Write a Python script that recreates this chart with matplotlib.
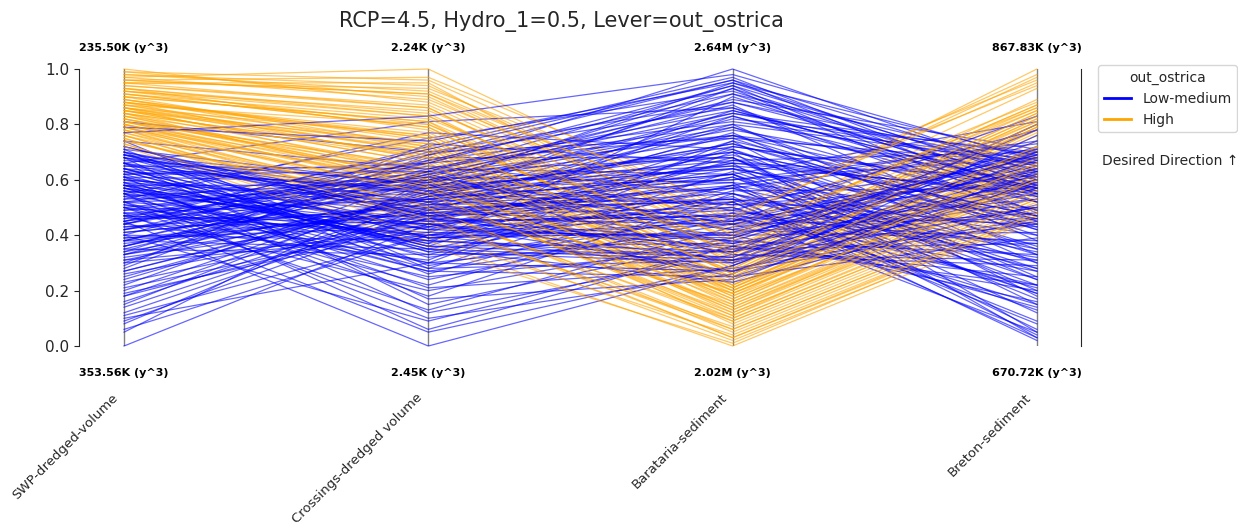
import matplotlib
matplotlib.use("Agg")
import matplotlib.pyplot as plt
import matplotlib.transforms as mtransforms
from matplotlib.lines import Line2D

plt.rcParams['font.family'] = ['DejaVu Sans']
plt.rcParams['text.color'] = '#262626'
plt.rcParams['axes.edgecolor'] = '#262626'
plt.rcParams['xtick.color'] = '#262626'
plt.rcParams['ytick.color'] = '#262626'

title = "RCP=4.5, Hydro_1=0.5, Lever=out_ostrica"
axis_names = ["SWP-dredged-volume", "Crossings-dredged volume", "Barataria-sediment", "Breton-sediment"]
top_labels = ["235.50K (y^3)", "2.24K (y^3)", "2.64M (y^3)", "867.83K (y^3)"]
bottom_labels = ["353.56K (y^3)", "2.45K (y^3)", "2.02M (y^3)", "670.72K (y^3)"]
legend_title = "out_ostrica"
group_names = ["Low-medium", "High"]

# Low-medium (blue) normalized values per axis
low_swp = [0.62, 0.45, 0.71, 0.33, 0.55, 0.68, 0.28, 0.50, 0.59, 0.40,
           0.35, 0.58, 0.20, 0.66, 0.48, 0.74, 0.52, 0.30, 0.43, 0.61,
           0.56, 0.38, 0.81, 0.47, 0.25, 0.64, 0.53, 0.12, 0.69, 0.44,
           0.60, 0.34, 0.50, 0.72, 0.42, 0.18, 0.57, 0.65, 0.39, 0.29,
           0.48, 0.63, 0.22, 0.55, 0.37, 0.70, 0.45, 0.08, 0.58, 0.32,
           0.66, 0.41, 0.52, 0.15, 0.61, 0.36, 0.74, 0.46, 0.27, 0.55,
           0.43, 0.58, 0.31, 0.69, 0.50, 0.05, 0.62, 0.38, 0.54, 0.24,
           0.57, 0.33, 0.47, 0.19, 0.64, 0.40, 0.52, 0.11, 0.68, 0.44,
           0.50, 0.26, 0.61, 0.40, 0.71, 0.16, 0.55, 0.35, 0.45, 0.00,
           0.45, 0.59, 0.30, 0.52, 0.09, 0.66, 0.38, 0.48, 0.21, 0.56,
           0.53, 0.39, 0.64, 0.47, 0.58, 0.34, 0.69, 0.42, 0.51, 0.60,
           0.41, 0.55, 0.36, 0.63, 0.49, 0.72, 0.27, 0.57, 0.44, 0.66,
           0.79, 0.14, 0.06, 0.18, 0.77, 0.10,
           0.65, 0.70, 0.62, 0.68, 0.58, 0.52, 0.47, 0.66, 0.60, 0.54,
           0.69, 0.42, 0.36, 0.63, 0.57, 0.49, 0.31, 0.67, 0.44, 0.59,
           0.70, 0.23, 0.51, 0.64, 0.38, 0.56, 0.46, 0.61, 0.33, 0.68]
low_cross = [0.66, 0.72, 0.58, 0.63, 0.75, 0.55, 0.69, 0.61, 0.52, 0.70,
             0.60, 0.48, 0.57, 0.81, 0.53, 0.64, 0.44, 0.67, 0.50, 0.59,
             0.46, 0.62, 0.70, 0.41, 0.55, 0.36, 0.77, 0.49, 0.58, 0.31,
             0.52, 0.68, 0.38, 0.45, 0.60, 0.56, 0.28, 0.64, 0.43, 0.73,
             0.40, 0.57, 0.61, 0.33, 0.49, 0.26, 0.65, 0.54, 0.37, 0.47,
             0.34, 0.51, 0.22, 0.58, 0.42, 0.63, 0.29, 0.47, 0.55, 0.18,
             0.45, 0.24, 0.53, 0.39, 0.13, 0.60, 0.32, 0.48, 0.27, 0.56,
             0.30, 0.50, 0.20, 0.43, 0.36, 0.09, 0.55, 0.40, 0.15, 0.62,
             0.25, 0.46, 0.12, 0.38, 0.28, 0.52, 0.06, 0.33, 0.58, 0.44,
             0.00, 0.21, 0.40, 0.10, 0.48, 0.17, 0.35, 0.05, 0.44, 0.27,
             0.57, 0.48, 0.42, 0.61, 0.37, 0.53, 0.46, 0.66, 0.40, 0.50,
             0.51, 0.44, 0.59, 0.35, 0.63, 0.47, 0.54, 0.39, 0.69, 0.43,
             0.74, 0.50, 0.40, 0.46, 0.83, 0.30,
             0.55, 0.47, 0.63, 0.39, 0.58, 0.66, 0.44, 0.52, 0.36, 0.60,
             0.49, 0.57, 0.62, 0.34, 0.45, 0.53, 0.41, 0.59, 0.67, 0.38,
             0.51, 0.46, 0.30, 0.56, 0.64, 0.42, 0.71, 0.35, 0.54, 0.48]
low_barataria = [1.00, 0.97, 0.95, 0.94, 0.92, 0.91, 0.96, 0.89, 0.93, 0.88,
                 0.87, 0.85, 0.84, 0.86, 0.82, 0.80, 0.83, 0.81, 0.79, 0.78,
                 0.77, 0.76, 0.75, 0.74, 0.73, 0.72, 0.71, 0.76, 0.70, 0.74,
                 0.69, 0.68, 0.67, 0.66, 0.65, 0.64, 0.63, 0.62, 0.68, 0.66,
                 0.61, 0.60, 0.59, 0.58, 0.57, 0.56, 0.55, 0.60, 0.58, 0.62,
                 0.54, 0.53, 0.52, 0.51, 0.50, 0.49, 0.48, 0.53, 0.51, 0.55,
                 0.47, 0.46, 0.45, 0.44, 0.43, 0.42, 0.47, 0.45, 0.44, 0.46,
                 0.41, 0.40, 0.39, 0.38, 0.37, 0.36, 0.42, 0.40, 0.38, 0.37,
                 0.35, 0.34, 0.33, 0.32, 0.31, 0.30, 0.36, 0.34, 0.33, 0.31,
                 0.29, 0.28, 0.27, 0.26, 0.25, 0.24, 0.23, 0.29, 0.27, 0.25,
                 0.83, 0.58, 0.71, 0.44, 0.90, 0.62, 0.38, 0.76, 0.52, 0.66,
                 0.80, 0.49, 0.93, 0.57, 0.68, 0.35, 0.73, 0.45, 0.86, 0.61,
                 0.95, 0.52, 0.48, 0.64, 0.98, 0.70,
                 0.72, 0.50, 0.88, 0.41, 0.64, 0.94, 0.36, 0.59, 0.32, 0.79,
                 0.55, 0.67, 0.84, 0.30, 0.47, 0.62, 0.40, 0.75, 0.91, 0.34,
                 0.57, 0.44, 0.27, 0.70, 0.85, 0.39, 0.96, 0.31, 0.65, 0.53]
low_breton = [0.62, 0.55, 0.68, 0.48, 0.58, 0.66, 0.52, 0.71, 0.45, 0.60,
              0.38, 0.57, 0.64, 0.47, 0.70, 0.33, 0.55, 0.67, 0.42, 0.59,
              0.30, 0.52, 0.66, 0.18, 0.45, 0.58, 0.25, 0.63, 0.05, 0.49,
              0.36, 0.20, 0.70, 0.03, 0.56, 0.44, 0.28, 0.81, 0.15, 0.61,
              0.24, 0.68, 0.47, 0.04, 0.35, 0.57, 0.19, 0.73, 0.40, 0.12,
              0.02, 0.31, 0.66, 0.50, 0.21, 0.78, 0.44, 0.09, 0.59, 0.34,
              0.62, 0.27, 0.83, 0.14, 0.53, 0.38, 0.05, 0.69, 0.46, 0.22,
              0.48, 0.16, 0.72, 0.33, 0.58, 0.25, 0.65, 0.41, 0.20, 0.55,
              0.37, 0.60, 0.29, 0.67, 0.44, 0.80, 0.22, 0.53, 0.31, 0.64,
              0.70, 0.46, 0.57, 0.76, 0.39, 0.63, 0.51, 0.68, 0.45, 0.59,
              0.52, 0.74, 0.35, 0.61, 0.56, 0.27, 0.69, 0.43, 0.08, 0.55,
              0.66, 0.32, 0.58, 0.71, 0.24, 0.50, 0.42, 0.63, 0.54, 0.17,
              0.60, 0.03, 0.15, 0.30, 0.67, 0.47,
              0.57, 0.13, 0.65, 0.70, 0.46, 0.61, 0.60, 0.06, 0.74, 0.49,
              0.28, 0.54, 0.69, 0.58, 0.37, 0.22, 0.64, 0.40, 0.55, 0.78,
              0.19, 0.68, 0.62, 0.47, 0.57, 0.71, 0.63, 0.50, 0.33, 0.43]

# High (orange) normalized values per axis
high_swp = [1.00, 0.97, 0.95, 0.93, 0.98, 0.91, 0.96, 0.94, 0.90, 0.99,
            0.89, 0.92, 0.87, 0.85, 0.88, 0.86, 0.90, 0.84, 0.83, 0.87,
            0.82, 0.85, 0.80, 0.83, 0.79, 0.86, 0.81, 0.78, 0.84, 0.80,
            0.77, 0.80, 0.76, 0.78, 0.75, 0.81, 0.74, 0.79, 0.73, 0.76,
            0.93, 0.88, 0.97, 0.85, 0.91, 0.82, 0.95, 0.89, 0.86, 0.92,
            0.84, 0.79, 0.88, 0.75, 0.94, 0.81, 0.73, 0.90, 0.77, 0.86,
            0.72, 0.96, 0.74,
            0.98, 0.92, 0.87, 0.83, 0.80, 0.95, 0.89, 0.85, 0.78, 0.91,
            0.96, 0.84, 0.81, 0.88, 0.76, 0.93, 0.86, 0.82, 0.99, 0.79]
high_cross = [0.88, 1.00, 0.95, 0.84, 0.92, 0.79, 0.97, 0.86, 0.81, 0.90,
              0.74, 0.83, 0.70, 0.66, 0.77, 0.62, 0.72, 0.58, 0.68, 0.80,
              0.64, 0.71, 0.55, 0.60, 0.50, 0.76, 0.63, 0.47, 0.69, 0.57,
              0.53, 0.61, 0.45, 0.56, 0.42, 0.65, 0.49, 0.59, 0.38, 0.52,
              0.78, 0.67, 0.89, 0.73, 0.82, 0.61, 0.93, 0.75, 0.70, 0.85,
              0.69, 0.54, 0.76, 0.44, 0.87, 0.59, 0.40, 0.81, 0.48, 0.72,
              0.36, 0.91, 0.51,
              0.94, 0.80, 0.73, 0.62, 0.58, 0.86, 0.71, 0.66, 0.50, 0.79,
              0.91, 0.64, 0.57, 0.75, 0.46, 0.83, 0.68, 0.60, 0.96, 0.55]
high_barataria = [0.42, 0.48, 0.37, 0.30, 0.45, 0.26, 0.52, 0.33, 0.22, 0.40,
                  0.28, 0.35, 0.20, 0.16, 0.31, 0.12, 0.24, 0.08, 0.19, 0.34,
                  0.17, 0.27, 0.10, 0.21, 0.05, 0.32, 0.18, 0.03, 0.23, 0.14,
                  0.12, 0.22, 0.06, 0.19, 0.02, 0.25, 0.09, 0.20, 0.00, 0.15,
                  0.36, 0.18, 0.44, 0.29, 0.39, 0.13, 0.50, 0.26, 0.21, 0.41,
                  0.25, 0.11, 0.32, 0.07, 0.38, 0.16, 0.04, 0.34, 0.10, 0.27,
                  0.01, 0.46, 0.19,
                  0.43, 0.30, 0.24, 0.17, 0.13, 0.35, 0.22, 0.20, 0.06, 0.28,
                  0.40, 0.15, 0.11, 0.26, 0.03, 0.33, 0.21, 0.14, 0.47, 0.09]
high_breton = [0.93, 0.98, 0.85, 0.80, 1.00, 0.70, 0.96, 0.82, 0.66, 0.87,
               0.78, 0.84, 0.69, 0.62, 0.79, 0.57, 0.71, 0.52, 0.64, 0.83,
               0.63, 0.77, 0.55, 0.67, 0.49, 0.80, 0.60, 0.47, 0.70, 0.58,
               0.56, 0.69, 0.50, 0.62, 0.46, 0.72, 0.53, 0.65, 0.45, 0.59,
               0.81, 0.68, 0.88, 0.76, 0.86, 0.61, 0.94, 0.79, 0.72, 0.85,
               0.74, 0.60, 0.81, 0.51, 0.89, 0.64, 0.48, 0.83, 0.54, 0.78,
               0.47, 0.97, 0.66,
               0.86, 0.80, 0.71, 0.62, 0.58, 0.84, 0.68, 0.65, 0.50, 0.79,
               0.87, 0.61, 0.56, 0.72, 0.48, 0.82, 0.66, 0.60, 0.95, 0.53]

blue = "#0000ff"
orange = "#ffa500"

fig = plt.figure(figsize=(12.38, 5.27), dpi=100)
ax = fig.add_axes([79 / 1238, 1 - 346 / 527, (1081 - 79) / 1238, (346 - 69) / 527])

xs = list(range(len(axis_names)))
low_rows = list(zip(low_swp, low_cross, low_barataria, low_breton))
high_rows = list(zip(high_swp, high_cross, high_barataria, high_breton))

# interleave drawing order
order = []
hi = 0
for i, r in enumerate(low_rows):
    order.append((r, blue))
    if i % 2 == 1 and hi < len(high_rows):
        order.append((high_rows[hi], orange))
        hi += 1
while hi < len(high_rows):
    order.append((high_rows[hi], orange))
    hi += 1

for r, c in order:
    ax.plot(xs, r, color=c, alpha=0.6, lw=0.9, clip_on=False, zorder=2)

for x in xs:
    ax.axvline(x, ymin=0, ymax=1, color="gray", lw=1.0, zorder=1)

ax.set_xlim(-0.148, 3.145)
ax.set_ylim(0, 1.0)
ax.set_yticks([0.0, 0.2, 0.4, 0.6, 0.8, 1.0])
ax.set_yticklabels(["0.0", "0.2", "0.4", "0.6", "0.8", "1.0"], fontsize=11)
ax.set_xticks([])
ax.spines['top'].set_visible(False)
ax.spines['bottom'].set_visible(False)

trans = mtransforms.blended_transform_factory(ax.transData, fig.transFigure)
for x, t, b, n in zip(xs, top_labels, bottom_labels, axis_names):
    fig.text(x, 1 - 48 / 527, t, transform=trans, ha="center", va="center",
             fontsize=8, fontweight="bold", color="black")
    fig.text(x, 1 - 373 / 527, b, transform=trans, ha="center", va="center",
             fontsize=8, fontweight="bold", color="black")
    fig.text(x - 0.01, 1 - 391 / 527, n, transform=trans, ha="right", va="top",
             rotation=45, fontsize=9.5)

fig.text(561 / 1238, 1 - 22 / 527, title, ha="center", va="center", fontsize=15)

handles = [Line2D([0], [0], color=blue, lw=2), Line2D([0], [0], color=orange, lw=2)]
leg = fig.legend(handles, group_names, title=legend_title, loc="upper left",
                 bbox_to_anchor=(1098 / 1238, 1 - 65 / 527), fontsize=10,
                 title_fontsize=10, frameon=True, borderaxespad=0)
fig.text(1102 / 1238, 1 - 161 / 527, "Desired Direction \u2191", ha="left", va="center",
         fontsize=10)

fig.savefig("out.png", dpi=100)
